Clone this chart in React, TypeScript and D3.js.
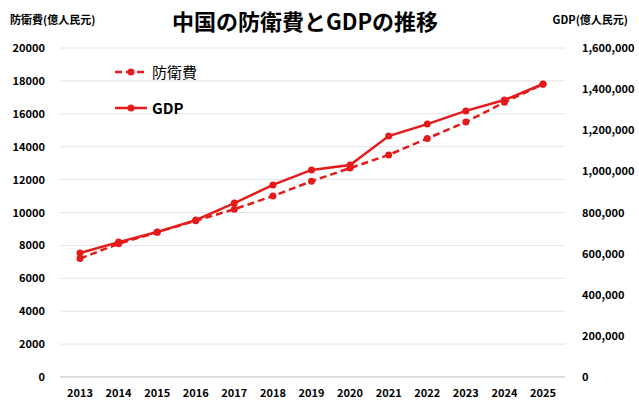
import React from 'react';
import * as d3 from 'd3';

const years = ['2013','2014','2015','2016','2017','2018','2019','2020','2021','2022','2023','2024','2025'];
const defense = [7200, 8100, 8800, 9500, 10200, 11000, 11900, 12700, 13500, 14500, 15500, 16700, 17800];
const gdp = [603000, 656000, 705000, 763000, 846000, 934000, 1007000, 1031000, 1172000, 1230000, 1294000, 1347000, 1425000];
const leftTicks = d3.range(0, 20001, 2000);
const rightTicks = d3.range(0, 1600001, 200000);

const W = 639, H = 411;
const RED = '#e31b1b';
const FONT = '"Noto Sans CJK JP", "Noto Sans", sans-serif';

export default function App() {
  const x = d3.scalePoint<string>().domain(years).range([80, 543]);
  const yL = d3.scaleLinear().domain([0, 20000]).range([377, 48]);
  const yR = d3.scaleLinear().domain([0, 1600000]).range([377, 48]);
  const lineL = d3.line<number>().x((_, i) => x(years[i])!).y(d => yL(d));
  const lineR = d3.line<number>().x((_, i) => x(years[i])!).y(d => yR(d));
  return (
    <svg width={W} height={H} style={{ position: 'absolute', left: 0, top: 0, fontFamily: FONT }}>
      <rect width={W} height={H} fill="#fff" />
      <text x={305} y={30} textAnchor="middle" fontSize={22} fontWeight="bold">中国の防衛費とGDPの推移</text>
      <text x={10} y={24} fontSize={11} fontWeight="bold">防衛費(億人民元)</text>
      <text x={628} y={24} textAnchor="end" fontSize={11} fontWeight="bold">GDP(億人民元)</text>
      {leftTicks.map(t => (
        <g key={t}>
          <line x1={60} x2={565} y1={yL(t)} y2={yL(t)} stroke={t === 0 ? '#bbb' : '#e4e4e4'} strokeWidth={1} />
          <text x={45} y={yL(t) + 4} textAnchor="end" fontSize={11} fontWeight="bold">{t}</text>
        </g>
      ))}
      {rightTicks.map(t => (
        <text key={t} x={582} y={yR(t) + 4} fontSize={11} fontWeight="bold">{d3.format(',')(t)}</text>
      ))}
      {years.map(y => (
        <text key={y} x={x(y)} y={397} textAnchor="middle" fontSize={11} fontWeight="bold">{y}</text>
      ))}
      <path d={lineL(defense)!} fill="none" stroke={RED} strokeWidth={2.5} strokeDasharray="7,4" />
      {defense.map((d, i) => <circle key={i} cx={x(years[i])} cy={yL(d)} r={3.5} fill={RED} />)}
      <path d={lineR(gdp)!} fill="none" stroke={RED} strokeWidth={2.5} />
      {gdp.map((d, i) => <circle key={i} cx={x(years[i])} cy={yR(d)} r={3.5} fill={RED} />)}
      <line x1={115} x2={147} y1={72} y2={72} stroke={RED} strokeWidth={2.5} strokeDasharray="7,4" />
      <circle cx={131} cy={72} r={3.5} fill={RED} />
      <text x={152} y={78} fontSize={15}>防衛費</text>
      <line x1={115} x2={147} y1={108} y2={108} stroke={RED} strokeWidth={2.5} />
      <circle cx={131} cy={108} r={3.5} fill={RED} />
      <text x={152} y={114} fontSize={15} fontWeight="bold">GDP</text>
    </svg>
  );
}
